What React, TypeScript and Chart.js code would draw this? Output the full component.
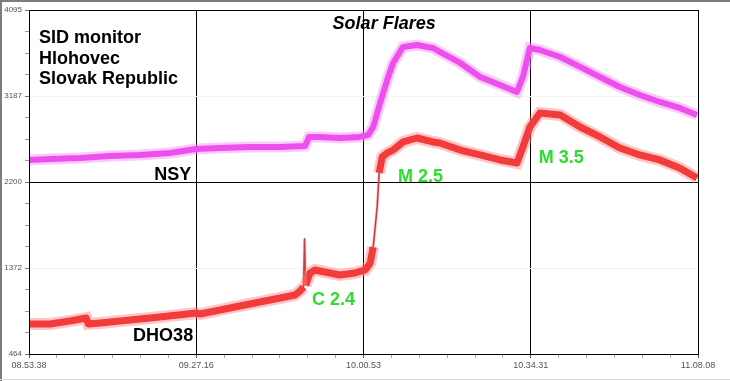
import React, { useEffect, useRef } from "react";
import { Chart, registerables } from "chart.js";

Chart.register(...registerables);

// ---- tick labels ----
const xTickLabels = ["08.53.38", "09.27.16", "10.00.53", "10.34.31", "11.08.08"];
const yTickLabels = ["464", "1372", "2200", "3187", "4095"];

// ---- series: minutes after 08:53:38 , signal level ----
const nsyTime = [0, 4.2, 10.3, 16.3, 22.3, 28.3, 33.6, 38.4, 44.4, 50.4, 55.5, 56.3, 58.5, 62.5, 66.5, 68.2, 69.2, 70.6, 72.0, 73.2, 75.2, 78.0, 81.2, 82.6, 86.7, 90.7, 94.7, 98.1, 99.3, 100.7, 102.7, 106.8, 110.8, 114.8, 118.8, 122.8, 126.8, 130.8, 134.3];
const nsyLevel = [2512, 2522, 2533, 2554, 2565, 2586, 2628, 2639, 2649, 2649, 2660, 2755, 2755, 2744, 2755, 2776, 2860, 3114, 3356, 3536, 3705, 3726, 3694, 3652, 3536, 3388, 3304, 3230, 3388, 3694, 3673, 3599, 3494, 3388, 3282, 3198, 3124, 3061, 2987];

const dhoTime = [0, 4.2, 8.2, 11.5, 11.9, 14.3, 20.3, 26.3, 33.6, 34.4, 40.4, 46.4, 50.5, 53.5, 54.5, 55.2, 55.4, 55.6, 56.5, 57.5, 60.5, 62.5, 65.5, 67.6, 68.6, 69.2, 70.0, 70.4, 71.0, 72.0, 73.2, 75.2, 78.0, 81.2, 82.6, 86.7, 90.7, 94.7, 98.1, 99.3, 100.7, 102.7, 106.8, 110.8, 114.8, 118.8, 122.8, 126.8, 130.8, 134.3];
const dhoLevel = [781, 781, 812, 844, 781, 791, 823, 855, 897, 886, 950, 1013, 1055, 1087, 1129, 1171, 1678, 1190, 1319, 1351, 1319, 1298, 1319, 1351, 1425, 1593, 2016, 2375, 2544, 2586, 2617, 2702, 2744, 2702, 2691, 2617, 2565, 2512, 2480, 2649, 2860, 3008, 2987, 2860, 2755, 2639, 2565, 2512, 2427, 2322];

// ---- text annotations (anchored in data units) ----
const noteTexts = ["SID monitor", "Hlohovec", "Slovak Republic", "Solar Flares", "NSY", "DHO38", "C 2.4", "M 2.5", "M 3.5"];
const noteTime = [2.0, 2.0, 2.0, 71.4, 32.6, 33.0, 56.9, 74.2, 102.5];
const noteLevel = [3747, 3525, 3314, 3895, 2301, 601, 981, 2280, 2480];
const noteColor = ["#000", "#000", "#000", "#000", "#000", "#000", "#2ddc2d", "#2ddc2d", "#2ddc2d"];
const noteAlign = ["left", "left", "left", "center", "right", "right", "left", "left", "left"];
const noteItalic = [false, false, false, true, false, false, false, false, false];

const Y_MIN = 464;
const Y_MAX = 4095;

function parseMin(s: string) {
  const [h, m, sec] = s.split(".").map(Number);
  return h * 60 + m + sec / 60;
}
const t0 = parseMin(xTickLabels[0]);
const xMajor = xTickLabels.map((s) => parseMin(s) - t0);

function steep(ctx: any) {
  const dx = Math.abs(ctx.p1.x - ctx.p0.x);
  const dy = Math.abs(ctx.p1.y - ctx.p0.y);
  return dy > 6 * Math.max(dx, 0.5);
}

export default function App() {
  const ref = useRef<HTMLCanvasElement>(null);
  useEffect(() => {
    document.body.style.margin = "0";
    const canvas = ref.current!;
    const xTicks: number[] = [];
    for (let i = 0; i < xMajor.length - 1; i++) {
      for (let k = 0; k < 6; k++) xTicks.push(xMajor[i] + ((xMajor[i + 1] - xMajor[i]) * k) / 6);
    }
    xTicks.push(xMajor[xMajor.length - 1]);
    const yTicks: number[] = [];
    for (let i = 0; i <= 16; i++) yTicks.push(Y_MIN + ((Y_MAX - Y_MIN) * i) / 16);

    const nsy = nsyTime.map((t, i) => ({ x: t, y: nsyLevel[i] }));
    const dho = dhoTime.map((t, i) => ({ x: t, y: dhoLevel[i] }));

    const framePlugin = {
      id: "frame",
      beforeDraw(chart: any) {
        const c = chart.ctx;
        c.save();
        c.fillStyle = "#fff";
        c.fillRect(0, 0, chart.width, chart.height);
        c.fillStyle = "#7d7d7d";
        c.fillRect(0, 0, chart.width, 2);
        c.fillRect(0, 0, 2, chart.height);
        c.fillStyle = "#dcdcdc";
        c.fillRect(0, chart.height - 2, chart.width, 1);
        c.restore();
      },
      afterDatasetsDraw(chart: any) {
        const c = chart.ctx;
        const a = chart.chartArea;
        c.save();
        c.strokeStyle = "#000";
        c.lineWidth = 1;
        c.strokeRect(Math.round(a.left) + 0.5, Math.round(a.top) + 0.5, Math.round(a.right - a.left), Math.round(a.bottom - a.top));
        const xs = chart.scales.x;
        const ys = chart.scales.y;
        noteTexts.forEach((txt, i) => {
          c.font = `${noteItalic[i] ? "italic " : ""}bold 18px "Liberation Sans", Arial, sans-serif`;
          c.fillStyle = noteColor[i];
          c.textAlign = noteAlign[i];
          c.textBaseline = "alphabetic";
          c.fillText(txt, xs.getPixelForValue(noteTime[i]), ys.getPixelForValue(noteLevel[i]));
        });
        c.restore();
      },
    };

    const halo = (color: string, w: number) => ({
      borderColor: color,
      borderWidth: w,
      pointRadius: 0,
      tension: 0,
      segment: {
        borderWidth: (ctx: any) => (steep(ctx) ? 3 : undefined),
      },
    });
    const core = (color: string, thin: string, w: number) => ({
      borderColor: color,
      borderWidth: w,
      pointRadius: 0,
      tension: 0,
      borderJoinStyle: "round",
      segment: {
        borderWidth: (ctx: any) => (steep(ctx) ? 1.5 : undefined),
        borderColor: (ctx: any) => (steep(ctx) ? thin : undefined),
      },
    });

    const chart = new Chart(canvas, {
      type: "line",
      data: {
        datasets: [
          { label: "NSY halo", data: nsy, ...halo("rgba(245,140,245,0.45)", 11) },
          { label: "NSY", data: nsy, ...core("#e81ee8", "#c010c0", 6) },
          { label: "DHO38 halo", data: dho, ...halo("rgba(255,130,130,0.45)", 12) },
          { label: "DHO38", data: dho, ...core("#e80000", "#a00000", 7) },
        ],
      },
      options: {
        responsive: false,
        animation: false,
        events: [],
        layout: { padding: { left: 0, right: 32, top: 10, bottom: 0 } },
        plugins: { legend: { display: false }, tooltip: { enabled: false }, title: { display: false } },
        scales: {
          x: {
            type: "linear",
            min: xMajor[0],
            max: xMajor[xMajor.length - 1],
            afterBuildTicks: (s: any) => {
              s.ticks = xTicks.map((v) => ({ value: v }));
            },
            afterFit: (s: any) => {
              s.height = 27;
            },
            border: { display: true, color: "#000" },
            grid: {
              color: (ctx: any) => (ctx.index % 6 === 0 && ctx.index > 0 && ctx.index < 24 ? "#000" : "rgba(0,0,0,0)"),
              tickColor: (ctx: any) => (ctx.index % 6 === 0 ? "#555" : "#aaa"),
              tickLength: 4,
              lineWidth: 1,
            },
            ticks: {
              autoSkip: false,
              maxRotation: 0,
              padding: 2,
              color: "#555",
              font: { size: 9, family: "'Liberation Sans', Arial, sans-serif" },
              callback: (_v: any, i: number) => (i % 6 === 0 ? xTickLabels[i / 6] : ""),
            },
          },
          y: {
            type: "linear",
            min: Y_MIN,
            max: Y_MAX,
            afterBuildTicks: (s: any) => {
              s.ticks = yTicks.map((v) => ({ value: v }));
            },
            afterFit: (s: any) => {
              s.width = 29;
            },
            border: { display: true, color: "#000" },
            grid: {
              color: (ctx: any) => (ctx.index === 8 ? "#000" : ctx.index % 4 === 0 ? "#f3f3f3" : "rgba(0,0,0,0)"),
              tickColor: (ctx: any) => (ctx.index % 4 === 0 ? "#777" : "#999"),
              tickLength: 4,
              lineWidth: 1,
            },
            ticks: {
              autoSkip: false,
              padding: 3,
              color: "#555",
              font: { size: 8, family: "'Liberation Sans', Arial, sans-serif" },
              callback: (_v: any, i: number) => (i % 4 === 0 ? yTickLabels[i / 4] : ""),
            },
          },
        },
      },
      plugins: [framePlugin],
    } as any);
    return () => chart.destroy();
  }, []);
  return (
    <div style={{ width: 730, height: 381 }}>
      <canvas ref={ref} width={730} height={381} style={{ display: "block" }} />
    </div>
  );
}
